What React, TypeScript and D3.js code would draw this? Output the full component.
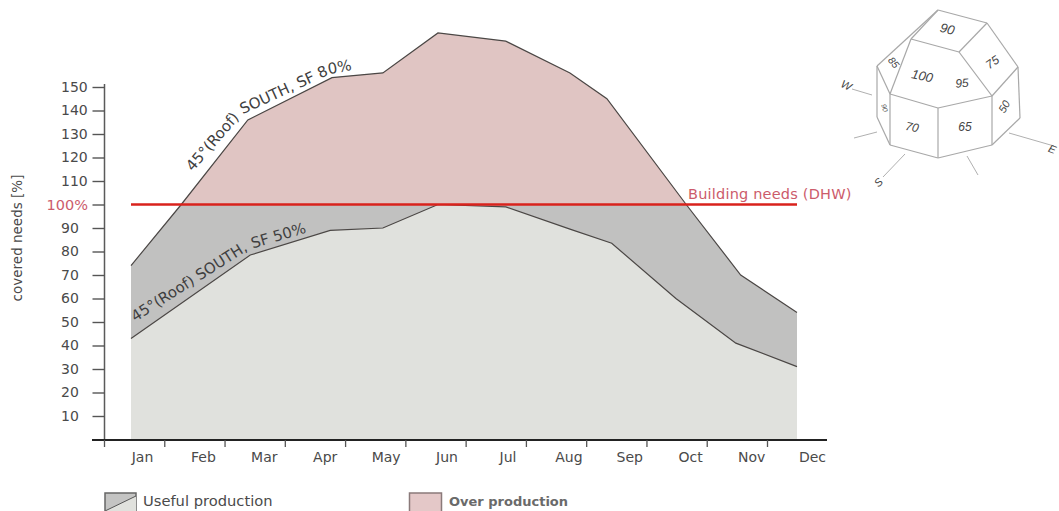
import React, { useRef, useEffect } from 'react';
import * as d3 from 'd3';

const months = ['Jan', 'Feb', 'Mar', 'Apr', 'May', 'Jun', 'Jul', 'Aug', 'Sep', 'Oct', 'Nov', 'Dec'];
const yTicks = [10, 20, 30, 40, 50, 60, 70, 80, 90, 100, 110, 120, 130, 140, 150];

// vertices of the two curves don't sit exactly on month steps, so position is in months from Jan
const sf80Pos = [0, 0.83, 1.93, 3.32, 4.16, 5.07, 6.19, 7.25, 7.86, 9.17, 10.07, 11];
const sf80Values = [74, 100, 136, 154, 156, 173, 169.5, 156, 145, 100, 70, 54];
const sf50Pos = [0, 1.97, 3.29, 4.16, 5.07, 6.19, 7.25, 7.94, 9.0, 9.99, 11];
const sf50Values = [43, 78.5, 89, 90, 100, 99, 89.5, 83.5, 60, 41, 31];
const needsValue = 100;

// guide lines for the labels that follow the curves
const sf80LabelPos = [1.02, 1.85, 3.29, 3.8];
const sf80LabelValues = [113.8, 138.5, 155.5, 158];
const sf50LabelPos = [0.07, 1.93, 3.0];
const sf50LabelValues = [50, 80.6, 88.8];

// orientation cube
const cubeLines: [number, number, number, number][] = [
  [938, 10, 987, 23], [987, 23, 1018, 67], [1018, 67, 1020, 118], [1020, 118, 992, 145],
  [992, 145, 938, 158], [938, 158, 890, 145], [890, 145, 877, 117], [877, 117, 877, 66],
  [877, 66, 938, 10], [911, 39, 938, 10], [911, 39, 959, 52], [959, 52, 987, 23],
  [959, 52, 992, 96], [992, 96, 1018, 67], [992, 96, 938, 108], [938, 108, 890, 94],
  [890, 94, 911, 39], [890, 94, 877, 66], [890, 94, 890, 145], [938, 108, 938, 158],
  [992, 96, 992, 145],
];
const cubeRays: [number, number, number, number][] = [
  [852, 89, 872, 95], [854, 138, 877, 132], [883, 177, 905, 154], [978, 175, 967, 156], [1009, 133, 1054, 146],
];
const cubeLabels: [string, number, number, number, number][] = [
  ['90', 947, 30, 14, 13],
  ['85', 893, 63, 50, 10],
  ['100', 922, 77, 12, 13],
  ['95', 962, 84, -5, 12],
  ['75', 993, 63, -35, 12],
  ['50', 1005, 107, -60, 11],
  ['70', 912, 128, 12, 12],
  ['65', 965, 128, 0, 12],
  ['90', 884, 108, 75, 7],
  ['W', 846, 86, 25, 11],
  ['S', 879, 183, -45, 11],
  ['E', 1052, 150, 20, 11],
];

export default function App() {
  const svgRef = useRef<SVGSVGElement | null>(null);

  useEffect(() => {
    if (!svgRef.current) return;
    const svg = d3.select(svgRef.current);
    svg.selectAll('*').remove();

    const font = '"DejaVu Sans", sans-serif';
    const textColor = '#4a4a4a';

    const x = d3.scaleLinear().domain([0, 11]).range([131, 797]);
    const y = d3.scaleLinear().domain([0, 150]).range([439.5, 87]);
    const labelX = d3.scalePoint<string>().domain(months).range([142, 812]);
    const tickX = d3.scalePoint<string>().domain(months).range([104, 767]);

    const top = sf80Pos.map((p, i) => [p, sf80Values[i]] as [number, number]);
    const bottom = sf50Pos.map((p, i) => [p, sf50Values[i]] as [number, number]);

    const line = d3.line<[number, number]>().x(d => x(d[0])).y(d => y(d[1]));
    const areaToBase = d3.area<[number, number]>().x(d => x(d[0])).y0(y(0)).y1(d => y(d[1]));

    const defs = svg.append('defs');
    defs.append('clipPath').attr('id', 'above-needs')
      .append('rect').attr('x', 0).attr('y', 0).attr('width', 1059).attr('height', y(needsValue));

    // grey band is the SF 80% area, the pink part is the same area clipped at 100%
    svg.append('path').datum(top).attr('d', areaToBase).attr('fill', '#c1c1c0');
    svg.append('path').datum(top).attr('d', areaToBase).attr('fill', '#e0c5c3').attr('clip-path', 'url(#above-needs)');
    svg.append('path').datum(bottom).attr('d', areaToBase).attr('fill', '#e0e1dd');

    svg.append('path').datum(top).attr('d', line).attr('fill', 'none').attr('stroke', '#4b4745').attr('stroke-width', 1.2);
    svg.append('path').datum(bottom).attr('d', line).attr('fill', 'none').attr('stroke', '#4b4745').attr('stroke-width', 1.2);

    svg.append('line')
      .attr('x1', x(0)).attr('x2', x(11))
      .attr('y1', y(needsValue)).attr('y2', y(needsValue))
      .attr('stroke', '#d9221c').attr('stroke-width', 2.4);

    // y axis
    const yAxis = svg.append('g')
      .attr('transform', 'translate(104.5,0)')
      .call(d3.axisLeft(y).tickValues(yTicks).tickSize(12).tickFormat(d => (d === needsValue ? '100%' : String(d))));
    yAxis.select('.domain').attr('d', 'M0,84V440').attr('stroke', '#5a5a5a').attr('stroke-width', 1.5);
    yAxis.selectAll('.tick line').attr('stroke', '#555').attr('stroke-width', 1.4);
    yAxis.selectAll<SVGTextElement, number>('.tick text')
      .attr('x', d => (d === needsValue ? -16.5 : -43.5))
      .attr('text-anchor', d => (d === needsValue ? 'end' : 'start'))
      .attr('fill', d => (d === needsValue ? '#cc5b6b' : textColor))
      .attr('font-family', font)
      .attr('font-size', d => (d === needsValue ? 14.5 : 14));

    // x axis: ticks and month labels do not share positions in the original
    const xTicks = svg.append('g')
      .attr('transform', 'translate(0,440)')
      .call(d3.axisBottom(tickX).tickSize(7).tickFormat(() => ''));
    xTicks.select('.domain').attr('d', 'M92,0H827').attr('stroke', '#222').attr('stroke-width', 2);
    xTicks.selectAll('.tick line').attr('stroke', '#555').attr('stroke-width', 1.3);

    const xLabels = svg.append('g')
      .attr('transform', 'translate(0,440)')
      .call(d3.axisBottom(labelX).tickSize(0).tickPadding(12));
    xLabels.select('.domain').remove();
    xLabels.selectAll('.tick text').attr('fill', textColor).attr('font-family', font).attr('font-size', 14);

    svg.append('text')
      .attr('transform', 'translate(22,238) rotate(-90)')
      .attr('text-anchor', 'middle')
      .attr('fill', textColor)
      .attr('font-family', font)
      .attr('font-size', 13.5)
      .text('covered needs [%]');

    // labels along the curves
    const curveLabels = [
      { id: 'sf80-guide', pos: sf80LabelPos, vals: sf80LabelValues, text: '45°(Roof) SOUTH, SF 80%', size: 15 },
      { id: 'sf50-guide', pos: sf50LabelPos, vals: sf50LabelValues, text: '45°(Roof) SOUTH, SF 50%', size: 15 },
    ];
    curveLabels.forEach(l => {
      defs.append('path').attr('id', l.id)
        .attr('d', line(l.pos.map((p, i) => [p, l.vals[i]] as [number, number])));
      svg.append('text')
        .attr('fill', '#3f3f3f')
        .attr('font-family', font)
        .attr('font-size', l.size)
        .append('textPath')
        .attr('href', `#${l.id}`)
        .text(l.text);
    });

    svg.append('text')
      .attr('x', 688).attr('y', 199)
      .attr('fill', '#cc5b6b')
      .attr('font-family', font)
      .attr('font-size', 14.5)
      .attr('letter-spacing', 0.2)
      .text('Building needs (DHW)');

    // legend
    const useful = svg.append('g');
    useful.append('rect').attr('x', 105).attr('y', 493).attr('width', 31).attr('height', 20)
      .attr('fill', '#c4c4c3').attr('stroke', '#666').attr('stroke-width', 1.5);
    useful.append('path').attr('d', 'M105,511L136,496L136,513L105,513Z').attr('fill', '#e0e1dd');
    useful.append('line').attr('x1', 105).attr('y1', 511).attr('x2', 136).attr('y2', 496)
      .attr('stroke', '#555').attr('stroke-width', 1);
    svg.append('text').attr('x', 143).attr('y', 506)
      .attr('fill', textColor).attr('font-family', font).attr('font-size', 14.7)
      .text('Useful production');

    svg.append('rect').attr('x', 409.5).attr('y', 493).attr('width', 32).attr('height', 20)
      .attr('fill', '#e4c8c8').attr('stroke', '#8a7a7a').attr('stroke-width', 1.5);
    svg.append('text').attr('x', 449).attr('y', 506)
      .attr('fill', '#6a6a6a').attr('font-family', font).attr('font-size', 13).attr('font-weight', 'bold')
      .text('Over production');

    // orientation cube
    const cube = svg.append('g');
    cube.selectAll('line.edge').data(cubeLines).join('line')
      .attr('class', 'edge')
      .attr('x1', d => d[0]).attr('y1', d => d[1]).attr('x2', d => d[2]).attr('y2', d => d[3])
      .attr('stroke', '#a8a8a8').attr('stroke-width', 1.2);
    cube.selectAll('line.ray').data(cubeRays).join('line')
      .attr('class', 'ray')
      .attr('x1', d => d[0]).attr('y1', d => d[1]).attr('x2', d => d[2]).attr('y2', d => d[3])
      .attr('stroke', '#b0b0b0').attr('stroke-width', 1);
    cube.selectAll('text').data(cubeLabels).join('text')
      .attr('transform', d => `translate(${d[1]},${d[2]}) rotate(${d[3]})`)
      .attr('text-anchor', 'middle')
      .attr('dominant-baseline', 'middle')
      .attr('font-family', '"Liberation Sans", sans-serif')
      .attr('font-style', 'italic')
      .attr('font-size', d => d[4])
      .attr('fill', '#444')
      .text(d => d[0]);
  }, []);

  return (
    <svg
      ref={svgRef}
      width={1059}
      height={511}
      style={{ position: 'absolute', left: 0, top: 0, background: '#fff' }}
    />
  );
}
